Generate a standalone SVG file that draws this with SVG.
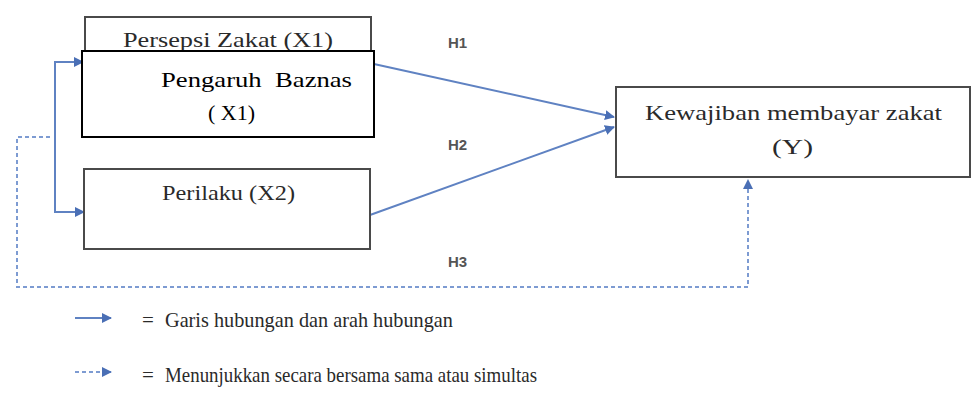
<svg xmlns="http://www.w3.org/2000/svg" width="971" height="401" viewBox="0 0 971 401">
<style>
.box{fill:#fff;stroke:#4a4a4a;stroke-width:2}
.boxk{fill:#fff;stroke:#000;stroke-width:2}
text{font-family:'Liberation Serif','Times New Roman',serif}
.gt{fill:#2a2a2a}
text.h{font-family:'Liberation Sans',Arial,sans-serif;font-size:15px;font-weight:bold;fill:#555}
.ln{fill:none;stroke:#5f82c2;stroke-width:2}
.dl{fill:none;stroke:#7d9bd2;stroke-width:2;stroke-dasharray:4 3}
</style>
<defs>
<marker id="ah" viewBox="0 0 10 10" refX="9" refY="5" markerWidth="5" markerHeight="5" orient="auto" markerUnits="strokeWidth">
<path d="M0,0 L10,5 L0,10 z" fill="#4a6fb5"/>
</marker>
</defs>
<rect width="971" height="401" fill="#fff"/>
<g id="connectors">
<path class="ln" d="M55,137 V62 H83" marker-end="url(#ah)"/>
<path class="ln" d="M55,137 V212 H84" marker-end="url(#ah)"/>
<path class="ln" d="M374,64 L614,117" marker-end="url(#ah)"/>
<path class="ln" d="M370,215 L614,127" marker-end="url(#ah)"/>
<path class="dl" d="M50,137 H17 V287 H748 V180" marker-end="url(#ah)"/>
<text class="h" x="448" y="48">H1</text>
<text class="h" x="448" y="150">H2</text>
<text class="h" x="448" y="267">H3</text>
</g>
<g id="persepsi">
<rect class="box" x="85" y="17" width="286" height="60"/>
<text class="gt" x="123" y="47" font-size="21" textLength="210" lengthAdjust="spacingAndGlyphs">Persepsi Zakat (X1)</text>
</g>
<g id="pengaruh">
<rect class="boxk" x="82" y="51" width="292" height="86"/>
<text x="161" y="87" font-size="22" fill="#000" textLength="191" lengthAdjust="spacingAndGlyphs" xml:space="preserve">Pengaruh  Baznas</text>
<text x="208" y="120" font-size="22" fill="#000" xml:space="preserve">( X1)</text>
</g>
<g id="perilaku">
<rect class="box" x="84" y="169" width="286" height="80"/>
<text class="gt" x="162" y="200" font-size="21" textLength="133" lengthAdjust="spacingAndGlyphs">Perilaku (X2)</text>
</g>
<g id="kewajiban">
<rect class="box" x="616" y="87" width="354" height="90"/>
<text class="gt" x="645" y="120" font-size="22" textLength="297" lengthAdjust="spacingAndGlyphs">Kewajiban membayar zakat</text>
<text class="gt" x="772" y="154" font-size="22" textLength="41" lengthAdjust="spacingAndGlyphs">(Y)</text>
</g>
<g id="legend">
<path class="ln" d="M75,318 H111" marker-end="url(#ah)"/>
<text class="gt" x="142" y="327" font-size="21">=</text>
<text class="gt" x="165" y="327" font-size="21" textLength="288" lengthAdjust="spacingAndGlyphs">Garis hubungan dan arah hubungan</text>
<path class="dl" d="M75,372 H111" stroke-dasharray="2 2" marker-end="url(#ah)"/>
<text class="gt" x="142" y="382" font-size="21">=</text>
<text class="gt" x="165" y="382" font-size="21" textLength="372" lengthAdjust="spacingAndGlyphs">Menunjukkan secara bersama sama atau simultas</text>
</g>
</svg>
